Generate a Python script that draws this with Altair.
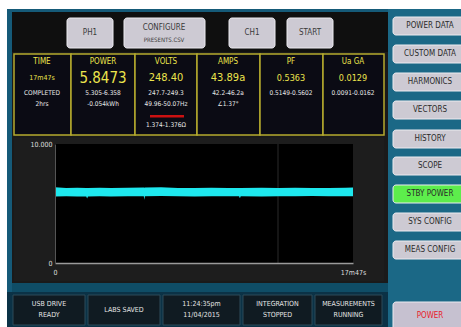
import altair as alt
import pandas as pd

W, H = 461, 327
FONT = "DejaVu Sans Condensed, Liberation Sans Narrow, DejaVu Sans, sans-serif"

# ---- logged power trace: elapsed seconds, min / max per bin (kW) ----
elapsed_s = [0, 40, 80, 112, 115, 118, 160, 200, 260, 318, 320, 322, 380, 440, 500,
             560, 620, 659, 662, 665, 740, 800, 860, 920, 980, 1040, 1067]
power_lo = [5.58, 5.60, 5.59, 5.58, 5.42, 5.59, 5.60, 5.58, 5.61, 5.60, 5.305, 5.60, 5.62, 5.60, 5.58,
            5.61, 5.60, 5.60, 5.45, 5.61, 5.59, 5.61, 5.60, 5.62, 5.60, 5.61, 5.60]
power_hi = [6.36, 6.31, 6.32, 6.31, 6.30, 6.31, 6.33, 6.30, 6.32, 6.34, 6.33, 6.34, 6.358, 6.31, 6.30,
            6.33, 6.31, 6.31, 6.30, 6.31, 6.32, 6.31, 6.33, 6.30, 6.31, 6.32, 6.34]

x_tick_values = [0, 1067]
x_tick_labels = ["0", "17m47s"]
y_tick_values = [0, 10]
y_tick_labels = ["0", "10.000"]

# ---- measurement panel readouts ----
meas_titles = ["TIME", "POWER", "VOLTS", "AMPS", "PF", "Ua GA"]
meas_values = ["17m47s", "5.8473", "248.40", "43.89a", "0.5363", "0.0129"]
meas_line1 = ["COMPLETED", "5.305-6.358", "247.7-249.3", "42.2-46.2a", "0.5149-0.5602", "0.0091-0.0162"]
meas_line2 = ["2hrs", "-0.054kWh", "49.96-50.07Hz", "\u22201.37\u00b0", "", ""]
meas_line3 = ["", "", "1.374-1.376\u03a9", "", "", ""]

top_buttons = ["PH1", "CONFIGURE", "CH1", "START"]
config_file = "PRESENTS.CSV"
menu_buttons = ["POWER DATA", "CUSTOM DATA", "HARMONICS", "VECTORS", "HISTORY",
                "SCOPE", "STBY POWER", "SYS CONFIG", "MEAS CONFIG"]
active_menu = "STBY POWER"
power_button = "POWER"
status_lines = [["USB DRIVE", "READY"], ["LABS SAVED"], ["11:24:35pm", "11/04/2015"],
                ["INTEGRATION", "STOPPED"], ["MEASUREMENTS", "RUNNING"]]

# ---- screen layout (pixel space) ----
px_x = alt.Scale(domain=[0, W], range=[0, W], nice=False, zero=False)
px_y = alt.Scale(domain=[0, H], range=[0, H], nice=False, zero=False)

T = "transparent"
rects = [
    (7, W, 9, H, "#155a78", T, 0),
    (388, W, 9, H, "#1b6886", T, 0),
    (12, 388, 12, 283, "#1a1a1a", T, 0),
    (12, 388, 12, 52, "#0f0f0f", T, 0),
    (12, 388, 283, 292, "#0f4d66", T, 0),
    (7, 388, 292, H, "#0b3246", T, 0),
    (14, 384, 138, 281, "#1d1d1d", T, 0),
    (55, 353, 144, 263, "#000000", T, 0),
    (277.5, 278.5, 144, 263, "#2a2a2a", T, 0),
]
box_edges = [14, 71, 135, 197, 260, 323, 384]
for i in range(6):
    rects.append((box_edges[i], box_edges[i + 1], 54, 135, "#0b0b14", "#b5aa2e", 1.5))
rects.append((150, 184, 115, 117.5, "#cc1111", T, 0))
status_edges = [(13, 85), (88, 160), (163, 240), (243, 312), (315, 382)]
for a, b in status_edges:
    rects.append((a, b, 295, 325, "#101b22", "#2c4a58", 1))
rects_df = pd.DataFrame(rects, columns=["x", "x2", "y", "y2", "fill", "stroke", "sw"])

buttons = [(67, 113, 18, 48, "#cdcad3"), (124, 205, 18, 48, "#cdcad3"),
           (229, 275, 18, 48, "#cdcad3"), (287, 333, 18, 48, "#cdcad3")]
menu_top = [17, 45, 73, 101, 130, 157, 185, 213, 241]
for label, t in zip(menu_buttons, menu_top):
    buttons.append((393, 468, t, t + 18, "#5ded4c" if label == active_menu else "#cdcad3"))
buttons.append((393, 468, 302, 332, "#c6c1d0"))
btn_df = pd.DataFrame(buttons, columns=["x", "x2", "y", "y2", "fill"])

# text rows: x, y, text, colour, size
texts = []
btn_dark = "#3a3a3a"
texts.append((90, 33, top_buttons[0], btn_dark, 8))
texts.append((164, 28, top_buttons[1], btn_dark, 8))
texts.append((164, 40, config_file, btn_dark, 6))
texts.append((252, 33, top_buttons[2], btn_dark, 8))
texts.append((310, 33, top_buttons[3], btn_dark, 8))
for label, t in zip(menu_buttons, menu_top):
    texts.append((430, t + 9, label, "#2a2a2a", 8))
texts.append((430, 316, power_button, "#e8202a", 8))

centers = [42, 103, 166, 228, 291, 353]
value_sizes = [7, 15, 11, 11, 9, 9]
yel = "#ece44c"
wht = "#e8e8e8"
for i, c in enumerate(centers):
    texts.append((c, 62, meas_titles[i], yel, 8))
    texts.append((c, 78, meas_values[i], yel, value_sizes[i]))
    texts.append((c, 93, meas_line1[i], wht, 6.5))
    texts.append((c, 104, meas_line2[i], wht, 6.5))
    texts.append((c, 125, meas_line3[i], wht, 6.5))
for (a, b), lines in zip(status_edges, status_lines):
    c = (a + b) / 2
    ys = [310] if len(lines) == 1 else [304, 315]
    for ln, yy in zip(lines, ys):
        texts.append((c, yy, ln, "#e6e6e6", 7))
txt_df = pd.DataFrame([t for t in texts if t[2]], columns=["x", "y", "text", "color", "size"])

rect_layer = alt.Chart(rects_df).mark_rect().encode(
    x=alt.X("x:Q", scale=px_x, axis=None), x2="x2",
    y=alt.Y("y:Q", scale=px_y, axis=None), y2="y2",
    fill=alt.Fill("fill:N", scale=None),
    stroke=alt.Stroke("stroke:N", scale=None),
    strokeWidth=alt.StrokeWidth("sw:Q", scale=None),
)

btn_layer = alt.Chart(btn_df).mark_rect(cornerRadius=3, stroke="#ecebf0", strokeWidth=1).encode(
    x=alt.X("x:Q", scale=px_x, axis=None), x2="x2",
    y=alt.Y("y:Q", scale=px_y, axis=None), y2="y2",
    fill=alt.Fill("fill:N", scale=None),
)

text_layer = alt.Chart(txt_df).mark_text(font=FONT, baseline="middle", align="center").encode(
    x=alt.X("x:Q", scale=px_x, axis=None),
    y=alt.Y("y:Q", scale=px_y, axis=None),
    text="text:N",
    color=alt.Color("color:N", scale=None),
    size=alt.Size("size:Q", scale=None),
)

# ---- power trace plotted through its own scales ----
trace_df = pd.DataFrame({"t": elapsed_s, "lo": power_lo, "hi": power_hi})
x_expr = " : ".join(f"datum.value == {v} ? '{l}'" for v, l in zip(x_tick_values, x_tick_labels)) + " : ''"
y_expr = " : ".join(f"datum.value == {v} ? '{l}'" for v, l in zip(y_tick_values, y_tick_labels)) + " : ''"

band = alt.Chart(trace_df).mark_area(color="#1ee8ee", interpolate="linear").encode(
    x=alt.X("t:Q",
            scale=alt.Scale(domain=[0, 1067], range=[55, 353], nice=False, zero=False),
            axis=alt.Axis(values=x_tick_values, labelExpr=x_expr, offset=-(H - 263), title=None,
                          ticks=False, grid=False, domainColor="#9a9a9a", domainWidth=1.5,
                          labelColor="#dddddd", labelFontSize=7, labelFont=FONT,
                          labelFlush=False, labelPadding=5, labelOverlap=False, zindex=2)),
    y=alt.Y("lo:Q",
            scale=alt.Scale(domain=[0, 10], range=[263, 144], nice=False, zero=False),
            axis=alt.Axis(values=y_tick_values, labelExpr=y_expr, offset=-55, title=None,
                          ticks=False, grid=False, domainColor="#555555", domainWidth=1,
                          labelColor="#dddddd", labelFontSize=7, labelFont=FONT,
                          labelFlush=False, labelPadding=3, labelOverlap=False, zindex=2)),
    y2="hi:Q",
)

chart = alt.layer(rect_layer, btn_layer, band, text_layer).resolve_scale(
    x="independent", y="independent"
).properties(
    width=W, height=H, padding=0, background="white",
    autosize=alt.AutoSizeParams(type="none"),
).configure_view(stroke=None)

chart.save("out.html", embed_options={"renderer": "svg", "actions": False})
